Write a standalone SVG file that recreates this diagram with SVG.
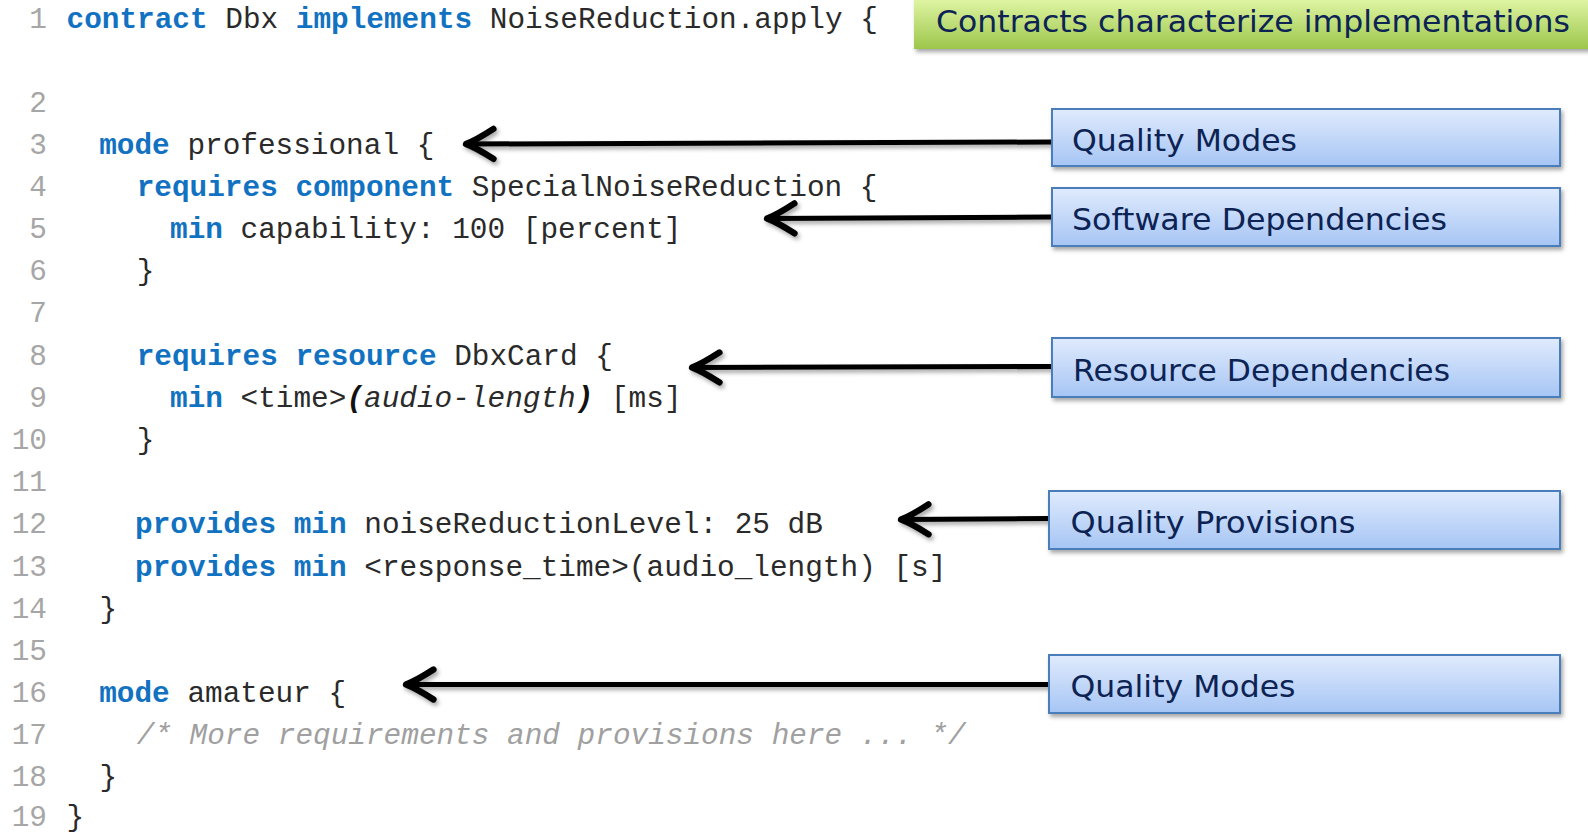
<svg xmlns="http://www.w3.org/2000/svg" width="1588" height="834" viewBox="0 0 1588 834">
<style>
.code{font-family:"Liberation Mono","Courier New",monospace;font-size:29.4px;fill:#2a2a2a}
.ln{font-family:"Liberation Mono","Courier New",monospace;font-size:29.4px;fill:#a6a6a6;text-anchor:end}
.kw{fill:#1272C2;font-weight:bold}
.it{font-style:italic}
.bi{font-style:italic;font-weight:bold;fill:#111}
.cm{fill:#a0a0a0;font-style:italic}
.lbl{font-family:"DejaVu Sans",Verdana,sans-serif;font-size:31px;fill:#0C2354}
.box{fill:url(#blueGrad);stroke:#4A7EBB;stroke-width:2}
.arr{stroke:#000;stroke-width:5;fill:none;marker-start:url(#head)}
</style>
<defs>
<linearGradient id="blueGrad" x1="0" y1="0" x2="0" y2="1">
<stop offset="0" stop-color="#E0EBFD"/>
<stop offset="1" stop-color="#A6C5F4"/>
</linearGradient>
<linearGradient id="greenGrad" x1="0" y1="0" x2="0" y2="1">
<stop offset="0" stop-color="#E4F8AA"/>
<stop offset="1" stop-color="#9CC64B"/>
</linearGradient>
<filter id="shadow" x="-5%" y="-20%" width="115%" height="160%">
<feDropShadow dx="2" dy="3" stdDeviation="2" flood-color="#000" flood-opacity="0.35"/>
</filter>
<marker id="head" markerUnits="userSpaceOnUse" orient="auto-start-reverse" refX="0" refY="0" markerWidth="40" markerHeight="40" viewBox="-26 -16 32 32" overflow="visible">
<path d="M -22 -12 Q -8 -3 0 0 Q -8 3 -22 12" fill="none" stroke="#000" stroke-width="5" stroke-linecap="round" stroke-linejoin="round"/>
</marker>
</defs>

<g id="code">
<text class="ln" x="47" y="27.5">1</text>
<text class="code" x="66.5" y="27.5" xml:space="preserve"><tspan class="kw">contract</tspan> Dbx <tspan class="kw">implements</tspan> NoiseReduction.apply {</text>
<text class="ln" x="47" y="111.5">2</text>
<text class="ln" x="47" y="153.7">3</text>
<text class="code" x="99.2" y="153.7" xml:space="preserve"><tspan class="kw">mode</tspan> professional {</text>
<text class="ln" x="47" y="195.9">4</text>
<text class="code" x="136.7" y="195.9" xml:space="preserve"><tspan class="kw">requires component</tspan> SpecialNoiseReduction {</text>
<text class="ln" x="47" y="238">5</text>
<text class="code" x="170" y="238" xml:space="preserve"><tspan class="kw">min</tspan> capability: 100 [percent]</text>
<text class="ln" x="47" y="280.2">6</text>
<text class="code" x="136.7" y="280.2">}</text>
<text class="ln" x="47" y="322.4">7</text>
<text class="ln" x="47" y="364.6">8</text>
<text class="code" x="136.7" y="364.6" xml:space="preserve"><tspan class="kw">requires resource</tspan> DbxCard {</text>
<text class="ln" x="47" y="406.8">9</text>
<text class="code" x="170" y="406.8" xml:space="preserve"><tspan class="kw">min</tspan> &lt;time&gt;<tspan class="bi">(</tspan><tspan class="it">audio-length</tspan><tspan class="bi">)</tspan> [ms]</text>
<text class="ln" x="47" y="449">10</text>
<text class="code" x="136.7" y="449">}</text>
<text class="ln" x="47" y="491.1">11</text>
<text class="ln" x="47" y="533.3">12</text>
<text class="code" x="135" y="533.3" xml:space="preserve"><tspan class="kw">provides min</tspan> noiseReductionLevel: 25 dB</text>
<text class="ln" x="47" y="575.5">13</text>
<text class="code" x="135" y="575.5" xml:space="preserve"><tspan class="kw">provides min</tspan> &lt;response_time&gt;(audio_length) [s]</text>
<text class="ln" x="47" y="617.7">14</text>
<text class="code" x="99.5" y="617.7">}</text>
<text class="ln" x="47" y="659.9">15</text>
<text class="ln" x="47" y="702.1">16</text>
<text class="code" x="99.2" y="702.1" xml:space="preserve"><tspan class="kw">mode</tspan> amateur {</text>
<text class="ln" x="47" y="744.2">17</text>
<text class="code cm" x="136.7" y="744.2" xml:space="preserve">/* More requirements and provisions here ... */</text>
<text class="ln" x="47" y="786.4">18</text>
<text class="code" x="99.5" y="786.4">}</text>
<text class="ln" x="47" y="826">19</text>
<text class="code" x="66.5" y="826">}</text>
</g>

<g id="connectors" filter="url(#shadow)">
<path class="arr" d="M 466 144 L 1052 142"/>
<path class="arr" d="M 767 218.5 L 1052 217"/>
<path class="arr" d="M 692 367.5 L 1052 366.5"/>
<path class="arr" d="M 901 519.5 L 1049 518.5"/>
<path class="arr" d="M 406 684.5 L 1049 684.5"/>
</g>

<g id="title">
<rect x="914" y="-4" width="690" height="53" fill="url(#greenGrad)" filter="url(#shadow)"/>
<text class="lbl" x="936" y="32" textLength="634" lengthAdjust="spacingAndGlyphs">Contracts characterize implementations</text>
</g>

<g id="box-quality-modes-1">
<rect class="box" x="1052" y="109" width="508" height="57" filter="url(#shadow)"/>
<text class="lbl" x="1072" y="150.5" textLength="225" lengthAdjust="spacingAndGlyphs">Quality Modes</text>
</g>
<g id="box-software-deps">
<rect class="box" x="1052" y="188" width="508" height="58" filter="url(#shadow)"/>
<text class="lbl" x="1072" y="229.5" textLength="375" lengthAdjust="spacingAndGlyphs">Software Dependencies</text>
</g>
<g id="box-resource-deps">
<rect class="box" x="1052" y="338" width="508" height="59" filter="url(#shadow)"/>
<text class="lbl" x="1073" y="380.5" textLength="377" lengthAdjust="spacingAndGlyphs">Resource Dependencies</text>
</g>
<g id="box-quality-provisions">
<rect class="box" x="1049" y="491" width="511" height="58" filter="url(#shadow)"/>
<text class="lbl" x="1070.5" y="533" textLength="285" lengthAdjust="spacingAndGlyphs">Quality Provisions</text>
</g>
<g id="box-quality-modes-2">
<rect class="box" x="1049" y="655" width="511" height="58" filter="url(#shadow)"/>
<text class="lbl" x="1070.5" y="697" textLength="225" lengthAdjust="spacingAndGlyphs">Quality Modes</text>
</g>
</svg>
